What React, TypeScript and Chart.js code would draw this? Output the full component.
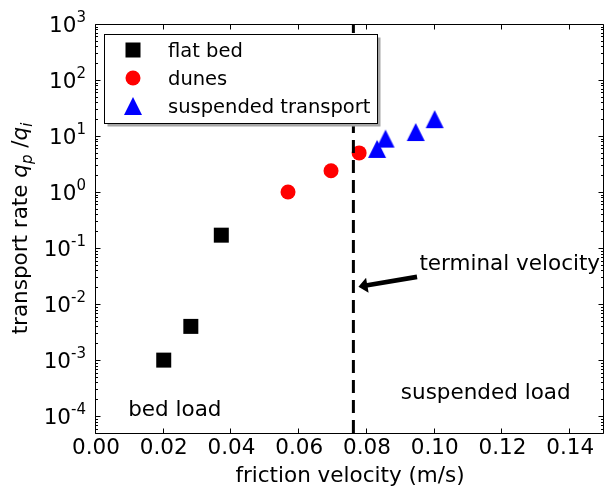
import React, { useEffect, useRef } from 'react';
import { Chart, registerables } from 'chart.js';

Chart.register(...registerables);

// ---- data ----
const flatBedX = [0.02, 0.028, 0.037];
const flatBedY = [0.001, 0.004, 0.17];
const dunesX = [0.0567, 0.0694, 0.0777];
const dunesY = [1.0, 2.4, 5.0];
const suspendedX = [0.083, 0.0855, 0.0944, 0.1];
const suspendedY = [5.9, 9.0, 11.8, 20];
const terminalVelocity = 0.076;
const xTickValues = [0, 0.02, 0.04, 0.06, 0.08, 0.1, 0.12, 0.14];
const yTickExponents = [-4, -3, -2, -1, 0, 1, 2, 3];
const xMin = 0;
const xMax = 0.15;
const yMin = 5e-5;
const yMax = 1000;
const legendLabels = ['flat bed', 'dunes', 'suspended transport'];
const annotationTexts = ['bed load', 'suspended load', 'terminal velocity'];
const annotationX = [0.0095, 0.09, 0.0955];
const annotationY = [1e-4, 2e-4, 0.04];
const arrowTail = [0.0948, 0.0307];
const arrowTip = [0.0775, 0.0204];

const FONT = 'DejaVu Sans';
const BIG = 21.5;

function makeTriangle(): HTMLCanvasElement {
  const c = document.createElement('canvas');
  c.width = 20;
  c.height = 20;
  const g = c.getContext('2d')!;
  g.fillStyle = '#0000ff';
  g.beginPath();
  g.moveTo(10, 1);
  g.lineTo(19, 19);
  g.lineTo(1, 19);
  g.closePath();
  g.fill();
  return c;
}

function makeOverlay(tri: HTMLCanvasElement) {
  return {
    id: 'overlay',
    afterDatasetsDraw(chart: any) {
      const ctx: CanvasRenderingContext2D = chart.ctx;
      const { left, right, top, bottom } = chart.chartArea;
      const xs = chart.scales.x;
      const ys = chart.scales.y;
      ctx.save();

      // annotation texts
      ctx.fillStyle = '#000';
      ctx.font = `${BIG}px "${FONT}"`;
      ctx.textAlign = 'left';
      ctx.textBaseline = 'alphabetic';
      annotationTexts.forEach((t, i) => {
        ctx.fillText(t, xs.getPixelForValue(annotationX[i]), ys.getPixelForValue(annotationY[i]));
      });

      // arrow
      const tx = xs.getPixelForValue(arrowTail[0]);
      const ty = ys.getPixelForValue(arrowTail[1]);
      const hx = xs.getPixelForValue(arrowTip[0]);
      const hy = ys.getPixelForValue(arrowTip[1]);
      const len = Math.hypot(hx - tx, hy - ty);
      const dx = (hx - tx) / len;
      const dy = (hy - ty) / len;
      const nx = -dy;
      const ny = dx;
      const headLen = 9;
      const shaft = 2.4;
      const head = 7.5;
      const neckX = hx - dx * headLen;
      const neckY = hy - dy * headLen;
      ctx.beginPath();
      ctx.moveTo(tx + nx * shaft, ty + ny * shaft);
      ctx.lineTo(neckX + nx * shaft, neckY + ny * shaft);
      ctx.lineTo(neckX + nx * head, neckY + ny * head);
      ctx.lineTo(hx, hy);
      ctx.lineTo(neckX - nx * head, neckY - ny * head);
      ctx.lineTo(neckX - nx * shaft, neckY - ny * shaft);
      ctx.lineTo(tx - nx * shaft, ty - ny * shaft);
      ctx.closePath();
      ctx.fillStyle = '#000';
      ctx.fill();

      // frame
      ctx.strokeStyle = '#000';
      ctx.lineWidth = 1;
      const fl = left - 0.5;
      const fr = right - 0.5;
      const ft = top + 0.5;
      const fb = bottom + 0.5;
      ctx.beginPath();
      ctx.rect(fl, ft, fr - fl, fb - ft);
      ctx.stroke();

      // ticks (inside, all four sides)
      ctx.beginPath();
      xTickValues.forEach((v) => {
        const px = Math.round(xs.getPixelForValue(v)) - 0.5;
        ctx.moveTo(px, fb);
        ctx.lineTo(px, fb - 5);
        ctx.moveTo(px, ft);
        ctx.lineTo(px, ft + 5);
      });
      yTickExponents.forEach((e) => {
        const py = Math.round(ys.getPixelForValue(Math.pow(10, e))) + 0.5;
        ctx.moveTo(fl, py);
        ctx.lineTo(fl + 5, py);
        ctx.moveTo(fr, py);
        ctx.lineTo(fr - 5, py);
      });
      for (let e = -5; e <= 2; e++) {
        for (let m = 2; m <= 9; m++) {
          const v = m * Math.pow(10, e);
          if (v < yMin || v > yMax) continue;
          const py = Math.round(ys.getPixelForValue(v)) + 0.5;
          ctx.moveTo(fl, py);
          ctx.lineTo(fl + 2.5, py);
          ctx.moveTo(fr, py);
          ctx.lineTo(fr - 2.5, py);
        }
      }
      ctx.stroke();

      // legend
      const lx = 104.5;
      const ly = 34.5;
      const lw = 273;
      const lh = 89;
      ctx.fillStyle = 'rgb(166,166,166)';
      ctx.fillRect(lx + 3, ly + 3, lw, lh);
      ctx.fillStyle = '#fff';
      ctx.fillRect(lx, ly, lw, lh);
      ctx.strokeStyle = '#000';
      ctx.strokeRect(lx, ly, lw, lh);
      const rows = [50, 78, 106];
      const mx = 133;
      ctx.fillStyle = '#000';
      ctx.fillRect(mx - 7.5, rows[0] - 7.5, 15, 15);
      ctx.fillStyle = '#ff0000';
      ctx.beginPath();
      ctx.arc(mx, rows[1], 7.5, 0, Math.PI * 2);
      ctx.fill();
      ctx.drawImage(tri, mx - 10, rows[2] - 10);
      ctx.fillStyle = '#000';
      ctx.font = `19.5px "${FONT}"`;
      ctx.textAlign = 'left';
      legendLabels.forEach((t, i) => ctx.fillText(t, 168, rows[i] + 6.5));

      ctx.restore();
    },
    afterDraw(chart: any) {
      const ctx: CanvasRenderingContext2D = chart.ctx;
      const { top, bottom } = chart.chartArea;
      const ys = chart.scales.y;
      ctx.save();
      ctx.fillStyle = '#000';
      ctx.textBaseline = 'alphabetic';
      // y tick labels 10^e
      const rightX = 86;
      yTickExponents.forEach((e) => {
        const py = ys.getPixelForValue(Math.pow(10, e));
        const expStr = String(e);
        ctx.font = `15px "${FONT}"`;
        const ew = ctx.measureText(expStr).width;
        ctx.textAlign = 'left';
        ctx.fillText(expStr, rightX - ew, py - 2);
        ctx.font = `${BIG}px "${FONT}"`;
        ctx.textAlign = 'right';
        ctx.fillText('10', rightX - ew, py + 8);
      });

      // y axis title
      const parts = [
        { t: 'transport rate ', f: `${BIG}px "${FONT}"`, dy: 0 },
        { t: 'q', f: `italic ${BIG}px "${FONT}"`, dy: 0 },
        { t: 'p', f: `italic 15px "${FONT}"`, dy: 4.5 },
        { t: ' /', f: `${BIG}px "${FONT}"`, dy: 0 },
        { t: 'q', f: `italic ${BIG}px "${FONT}"`, dy: 0 },
        { t: 'i', f: `italic 15px "${FONT}"`, dy: 4.5 },
      ];
      let total = 0;
      const widths = parts.map((p) => {
        ctx.font = p.f;
        const w = ctx.measureText(p.t).width;
        total += w;
        return w;
      });
      ctx.translate(27, (top + bottom) / 2);
      ctx.rotate(-Math.PI / 2);
      ctx.textAlign = 'left';
      let cx = -total / 2;
      parts.forEach((p, i) => {
        ctx.font = p.f;
        ctx.fillText(p.t, cx, p.dy);
        cx += widths[i];
      });
      ctx.restore();
    },
  };
}

export default function App() {
  const ref = useRef<HTMLCanvasElement | null>(null);

  useEffect(() => {
    document.body.style.margin = '0';
    const canvas = ref.current!;
    const tri = makeTriangle();
    const chart = new Chart(canvas, {
      type: 'scatter',
      data: {
        datasets: [
          {
            type: 'line',
            label: 'terminal velocity',
            data: [
              { x: terminalVelocity, y: yMin },
              { x: terminalVelocity, y: yMax },
            ],
            borderColor: '#000',
            borderWidth: 3,
            borderDash: [13, 7],
            pointRadius: 0,
            showLine: true,
            fill: false,
          } as any,
          {
            label: legendLabels[0],
            data: flatBedX.map((x, i) => ({ x, y: flatBedY[i] })),
            pointStyle: 'rect',
            pointRadius: 10.6,
            pointBackgroundColor: '#000',
            backgroundColor: '#000',
            pointBorderWidth: 0,
            borderWidth: 0,
          },
          {
            label: legendLabels[1],
            data: dunesX.map((x, i) => ({ x, y: dunesY[i] })),
            pointStyle: 'circle',
            pointRadius: 7.5,
            pointBackgroundColor: '#ff0000',
            backgroundColor: '#ff0000',
            pointBorderWidth: 0,
            borderWidth: 0,
          },
          {
            label: legendLabels[2],
            data: suspendedX.map((x, i) => ({ x, y: suspendedY[i] })),
            pointStyle: tri,
            pointRadius: 10,
            pointBackgroundColor: '#0000ff',
            backgroundColor: '#0000ff',
            pointBorderWidth: 0,
            borderWidth: 0,
          },
        ],
      },
      options: {
        responsive: false,
        maintainAspectRatio: false,
        animation: false,
        devicePixelRatio: 1,
        events: [],
        layout: { autoPadding: false, padding: { top: 24, right: 2, left: 0, bottom: 0 } },
        plugins: {
          legend: { display: false },
          tooltip: { enabled: false },
        },
        scales: {
          x: {
            type: 'linear',
            position: 'bottom',
            min: xMin,
            max: xMax,
            afterBuildTicks: (s: any) => {
              s.ticks = xTickValues.map((v) => ({ value: v }));
            },
            afterFit: (s: any) => {
              s.height = 57;
            },
            grid: { display: false, drawTicks: false },
            border: { display: false },
            ticks: {
              autoSkip: false,
              maxRotation: 0,
              minRotation: 0,
              padding: 3,
              color: '#000',
              font: { family: FONT, size: BIG },
              callback: (v: any) => Number(v).toFixed(2),
            },
            title: {
              display: true,
              text: 'friction velocity (m/s)',
              color: '#000',
              font: { family: FONT, size: BIG },
              padding: { top: 0, bottom: 1 },
            },
          },
          y: {
            type: 'logarithmic',
            position: 'left',
            min: yMin,
            max: yMax,
            afterFit: (s: any) => {
              s.width = 96;
            },
            grid: { display: false, drawTicks: false },
            border: { display: false },
            ticks: { display: false },
          },
        },
      },
      plugins: [makeOverlay(tri)],
    } as any);
    return () => chart.destroy();
  }, []);

  return (
    <div style={{ width: 606, height: 490 }}>
      <canvas ref={ref} width={606} height={490} style={{ display: 'block' }} />
    </div>
  );
}
